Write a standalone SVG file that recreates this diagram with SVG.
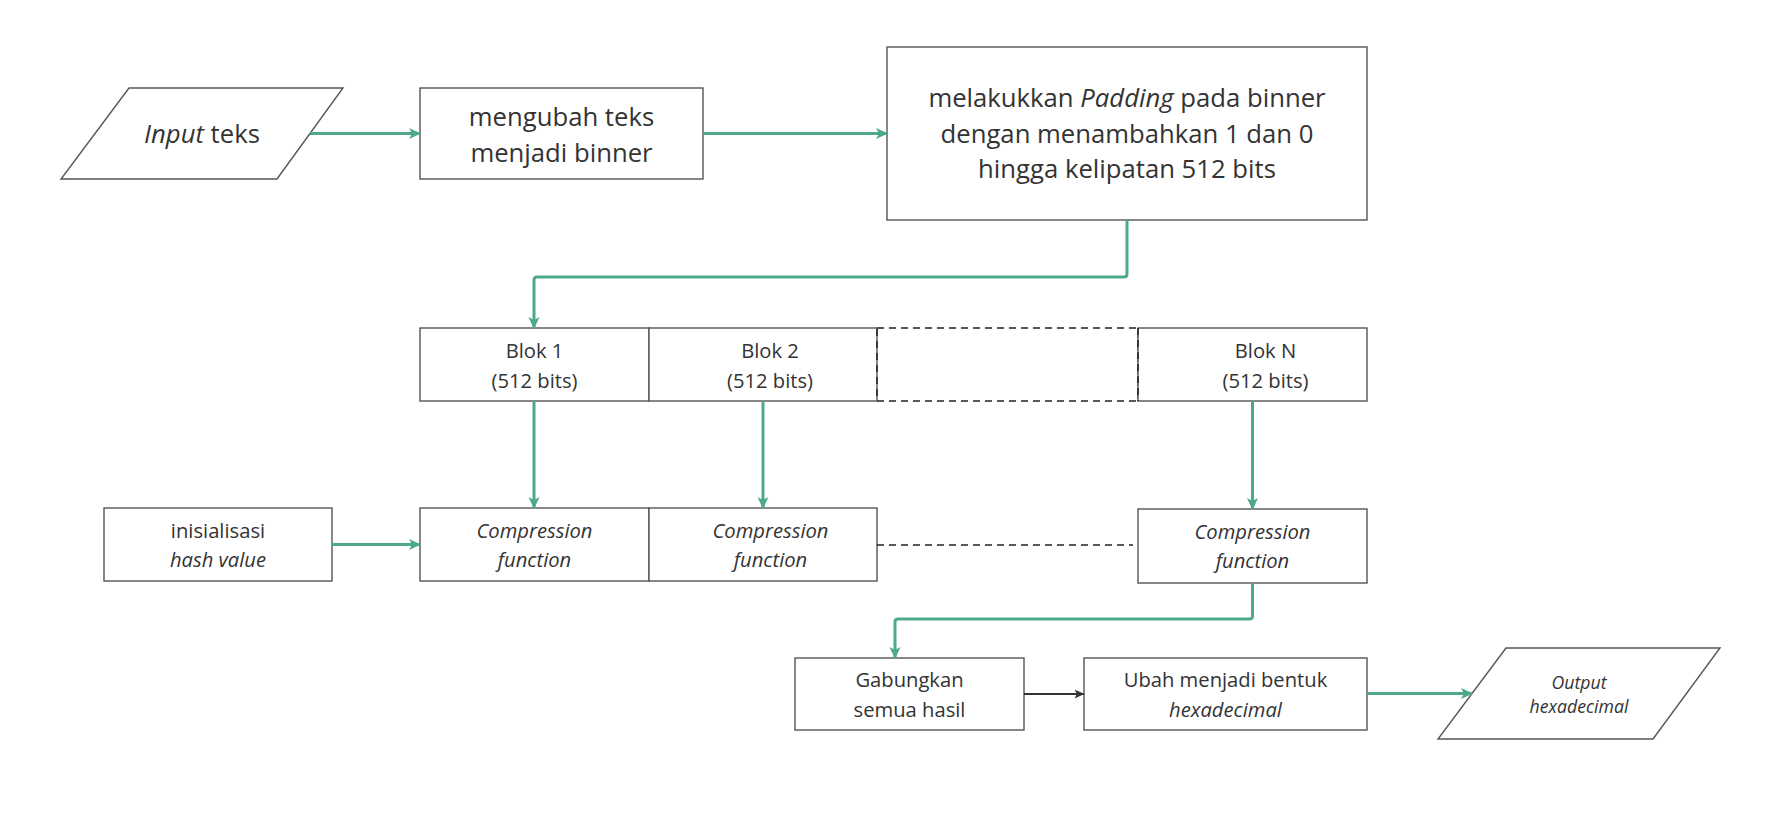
<svg xmlns="http://www.w3.org/2000/svg" width="1783" height="834" viewBox="0 0 1783 834">
<style>
.box{fill:#fff;stroke:#555;stroke-width:1.4}
.t{font-family:"Open Sans","Noto Sans","DejaVu Sans",sans-serif;fill:#333;text-anchor:middle}
.big{font-size:25.7px}
.sm{font-size:20.2px}
.xs{font-size:17.7px}
.i{font-style:italic}
.g{fill:none;stroke:#4caa8b;stroke-width:3;stroke-linejoin:round}
.dash{fill:none;stroke:#222;stroke-width:1.5;stroke-dasharray:7 5}
</style>
<defs>
<marker id="ag" viewBox="0 0 12 12" refX="11" refY="6" markerWidth="12" markerHeight="12" markerUnits="userSpaceOnUse" orient="auto">
<path d="M0,0.5 L12,6 L0,11.5 L3,6 z" fill="#4caa8b"/>
</marker>
<marker id="ab" viewBox="0 0 10 10" refX="9.5" refY="5" markerWidth="10" markerHeight="10" markerUnits="userSpaceOnUse" orient="auto">
<path d="M0,0.5 L10,5 L0,9.5 L2.5,5 z" fill="#333"/>
</marker>
</defs>
<rect width="1783" height="834" fill="#fff"/>

<g id="input">
<polygon class="box" points="129,88 343,88 277,179 61,179"/>
<text class="t big" x="202" y="142.5"><tspan class="i">Input</tspan> teks</text>
</g>
<g id="ubah-binner">
<rect class="box" x="420" y="88" width="283" height="91"/>
<text class="t big" x="561.5" y="126">mengubah teks</text>
<text class="t big" x="561.5" y="162">menjadi binner</text>
</g>
<g id="padding">
<rect class="box" x="887" y="47" width="480" height="173"/>
<text class="t big" x="1127" y="107">melakukkan <tspan class="i">Padding</tspan> pada binner</text>
<text class="t big" x="1127" y="143">dengan menambahkan 1 dan 0</text>
<text class="t big" x="1127" y="178">hingga kelipatan 512 bits</text>
</g>
<g id="blok1">
<rect class="box" x="420" y="328" width="229" height="73"/>
<text class="t sm" x="534.5" y="358">Blok 1</text>
<text class="t sm" x="534.5" y="388">(512 bits)</text>
</g>
<g id="blok2">
<rect class="box" x="649" y="328" width="228" height="73"/>
<text class="t sm" x="770" y="358">Blok 2</text>
<text class="t sm" x="770" y="388">(512 bits)</text>
</g>
<g id="blok-dots">
<rect class="dash" x="877" y="328" width="261" height="73"/>
</g>
<g id="blokN">
<rect class="box" x="1138" y="328" width="229" height="73"/>
<line class="dash" x1="1138" y1="328" x2="1138" y2="401"/>
<text class="t sm" x="1265.5" y="358">Blok N</text>
<text class="t sm" x="1265.5" y="388">(512 bits)</text>
</g>
<g id="hash">
<rect class="box" x="104" y="508" width="228" height="73"/>
<text class="t sm" x="218" y="538">inisialisasi</text>
<text class="t sm i" x="218" y="567">hash value</text>
</g>
<g id="comp1">
<rect class="box" x="420" y="508" width="229" height="73"/>
<text class="t sm i" x="534.5" y="538">Compression</text>
<text class="t sm i" x="534.5" y="567">function</text>
</g>
<g id="comp2">
<rect class="box" x="649" y="508" width="228" height="73"/>
<text class="t sm i" x="770.5" y="538">Compression</text>
<text class="t sm i" x="770.5" y="567">function</text>
</g>
<g id="compN">
<rect class="box" x="1138" y="509" width="229" height="74"/>
<text class="t sm i" x="1252.5" y="539">Compression</text>
<text class="t sm i" x="1252.5" y="568">function</text>
</g>
<g id="gabung">
<rect class="box" x="795" y="658" width="229" height="72"/>
<text class="t sm" x="909.5" y="687">Gabungkan</text>
<text class="t sm" x="909.5" y="717">semua hasil</text>
</g>
<g id="hexa">
<rect class="box" x="1084" y="658" width="283" height="72"/>
<text class="t sm" x="1225.5" y="687">Ubah menjadi bentuk</text>
<text class="t sm i" x="1225.5" y="717">hexadecimal</text>
</g>
<g id="output">
<polygon class="box" points="1506,648 1720,648 1653,739 1438,739"/>
<text class="t xs i" x="1579" y="689">Output</text>
<text class="t xs i" x="1579" y="713">hexadecimal</text>
</g>

<g id="connectors">
<line class="g" x1="310" y1="133.5" x2="420" y2="133.5" marker-end="url(#ag)"/>
<line class="g" x1="703" y1="133.5" x2="887" y2="133.5" marker-end="url(#ag)"/>
<path class="g" d="M1127,220 V274 Q1127,277 1124,277 H537 Q534,277 534,280 V328" marker-end="url(#ag)"/>
<line class="g" x1="534" y1="401" x2="534" y2="508" marker-end="url(#ag)"/>
<line class="g" x1="763" y1="401" x2="763" y2="508" marker-end="url(#ag)"/>
<line class="g" x1="1252.5" y1="401" x2="1252.5" y2="509" marker-end="url(#ag)"/>
<line class="g" x1="332" y1="544.5" x2="420" y2="544.5" marker-end="url(#ag)"/>
<line class="dash" x1="877" y1="545" x2="1133" y2="545"/>
<path class="g" d="M1252.5,583 V616 Q1252.5,619 1249.5,619 H898 Q895,619 895,622 V658" marker-end="url(#ag)"/>
<line x1="1024" y1="694" x2="1084" y2="694" stroke="#333" stroke-width="2" marker-end="url(#ab)"/>
<line class="g" x1="1367" y1="693.5" x2="1472" y2="693.5" marker-end="url(#ag)"/>
</g>
</svg>
